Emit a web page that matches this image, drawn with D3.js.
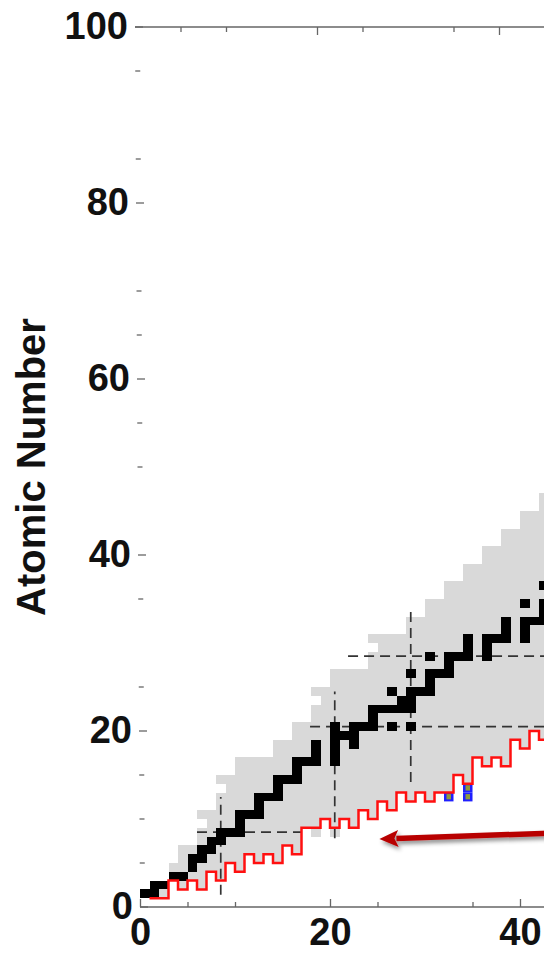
<!DOCTYPE html>
<html>
<head>
<meta charset="utf-8">
<script src="https://cdn.jsdelivr.net/npm/d3@7"></script>
<style>
  body { margin: 0; background: #fff; }
  svg { display: block; font-family: "Liberation Sans", Arial, sans-serif; }
</style>
</head>
<body>
<div id="chart"></div>
<script>
// stable nuclides as [N, Z]
const stable = [[0,1],[1,1],[1,2],[2,2],[3,3],[4,3],[5,4],[5,5],[6,5],[6,6],[7,6],[7,7],[8,7],[8,8],[9,8],
    [10,8],[10,9],[10,10],[11,10],[12,10],[12,11],[12,12],[13,12],[14,12],[14,13],[14,14],[15,14],[16,14],
    [16,15],[16,16],[17,16],[18,16],[18,17],[18,18],[20,16],[20,17],[20,18],[20,19],[20,20],[21,19],[22,18],
    [22,19],[22,20],[23,20],[24,20],[24,21],[24,22],[25,22],[26,20],[26,22],[26,24],[27,22],[27,23],[28,20],
    [28,22],[28,23],[28,24],[28,26],[29,24],[30,24],[30,25],[30,26],[30,28],[31,26],[32,26],[32,27],[32,28],
    [33,28],[34,28],[34,29],[34,30],[36,28],[36,29],[36,30],[37,30],[38,30],[38,31],[38,32],[40,30],[40,31],
    [40,32],[40,34],[41,32],[42,32],[42,33],[42,34],[42,36],[43,34],[44,32],[44,34],[44,35],[44,36],[46,34],
    [46,35],[46,36],[47,36],[48,34],[48,36],[50,36]]

// known nuclides: Z range per neutron number
const knownN    = [0,1,2,3,4,5,6,7,8,9,10,11,12,13,14,15,16,17,18,19,20,21,22,23,24,25,26,27,28,29,30,31,32,33,34,35,36,37,38,39,40,41,42,43,44,45]
const knownZmin = [1,1,1,3,2,3,2,4,3,5,4,6,5,6,5,7,6,9,8,10,8,10,9,11,10,12,11,13,12,13,12,13,13,15,14,17,16,17,16,19,18,20,19,21,20,22]
const knownZmax = [1,2,2,4,6,6,10,10,14,14,16,16,16,16,18,18,20,20,24,24,26,26,26,26,30,30,30,30,32,32,34,34,36,36,38,38,40,40,42,42,44,44,46,46,48,48]
const knownGaps = [[6,9],[8,13],[18,23],[24,29]]

// red boundary (step line)
const lineN = [1,2,3,4,5,6,7,8,9,10,11,12,13,14,15,16,17,18,19,20,21,22,23,24,25,26,27,28,29,30,31,32,33,34,35,36,37,38,39,40,41,42,43,44,45,46]
const lineZ = [1,1,3,2,3,2,4,3,5,4,6,5,6,5,7,6,9,9,10,9,10,9,11,10,12,11,13,12,13,12,13,13,15,14,17,16,17,16,19,18,20,19,21,20,22,22]

const blueCells = [[32,12],[34,12],[34,13]]

// magic numbers and the extent of their dashed lines
const magic = [8, 20, 28]
const magicVLow = [1.4, 7.8, 14.2]
const magicVHigh = [12.5, 24.5, 33.6]
const magicHLow = [6, 17.9, 21.9]
const magicHHigh = [17, 60, 60]

const arrowFrom = [50, 8.65]
const arrowTo = [25.2, 7.72]

const xMajor = [0, 20, 40]
const xMinor = [5, 10, 25, 35]
const yMajor = [0, 20, 40, 60, 80, 100]
const yMinor = [5, 10, 15, 25, 35, 50, 55, 65, 70, 85, 95]

const width = 544, height = 953

const x = d3.scaleLinear().domain([0, 40]).range([140, 520])
const xTop = d3.scaleLinear().domain([0, 40]).range([135, 499])
const y = d3.scaleLinear().domain([0, 100]).range([907, 27])
const xLeft = d3.scaleLinear().domain([0, 100]).range([140, 135])

const svg = d3.select('#chart').append('svg')
    .attr('width', width)
    .attr('height', height)

svg.append('defs').append('filter')
    .attr('id', 'shadow')
    .attr('x', '-20%').attr('y', '-100%')
    .attr('width', '140%').attr('height', '300%')
    .append('feDropShadow')
    .attr('dx', 2).attr('dy', 3)
    .attr('stdDeviation', 2)
    .attr('flood-color', '#000')
    .attr('flood-opacity', 0.45)

const cellW = n => x(n + 1) - x(n)
const cellH = z => y(z) - y(z + 1)

// grey cells
const cells = []
knownN.forEach((n, i) => {
    for (let z = knownZmin[i]; z <= knownZmax[i]; z++) {
        if (!knownGaps.some(g => g[0] === n && g[1] === z)) cells.push([n, z])
    }
})

svg.append('g')
    .selectAll('rect')
    .data(cells)
    .join('rect')
    .attr('x', d => x(d[0]))
    .attr('y', d => y(d[1] + 1))
    .attr('width', d => cellW(d[0]))
    .attr('height', d => cellH(d[1]))
    .attr('fill', '#d9d9d9')
    .attr('shape-rendering', 'crispEdges')

// magic number dashed lines
const dash = svg.append('g')
    .attr('stroke', '#333')
    .attr('stroke-width', 1.7)
    .attr('stroke-dasharray', '10,6')

dash.selectAll('.v')
    .data(magic)
    .join('line')
    .attr('class', 'v')
    .attr('x1', d => x(d + 0.5))
    .attr('x2', d => x(d + 0.5))
    .attr('y1', (d, i) => y(magicVLow[i]))
    .attr('y2', (d, i) => y(magicVHigh[i]))

dash.selectAll('.h')
    .data(magic)
    .join('line')
    .attr('class', 'h')
    .attr('y1', d => y(d + 0.5))
    .attr('y2', d => y(d + 0.5))
    .attr('x1', (d, i) => x(magicHLow[i]))
    .attr('x2', (d, i) => x(magicHHigh[i]))

// stable
svg.append('g')
    .selectAll('rect')
    .data(stable)
    .join('rect')
    .attr('x', d => x(d[0]))
    .attr('y', d => y(d[1] + 1))
    .attr('width', d => cellW(d[0]))
    .attr('height', d => cellH(d[1]))
    .attr('fill', '#000')
    .attr('shape-rendering', 'crispEdges')

// blue cells
const blue = svg.append('g')
blue.selectAll('.b')
    .data(blueCells)
    .join('rect')
    .attr('class', 'b')
    .attr('x', d => x(d[0]))
    .attr('y', d => y(d[1] + 1))
    .attr('width', d => cellW(d[0]))
    .attr('height', d => cellH(d[1]))
    .attr('fill', '#1f1fff')
blue.selectAll('.o')
    .data(blueCells)
    .join('rect')
    .attr('class', 'o')
    .attr('x', d => x(d[0]) + 2.5)
    .attr('y', d => y(d[1] + 1) + 1.5)
    .attr('width', d => cellW(d[0]) - 5)
    .attr('height', d => cellH(d[1]) * 0.6)
    .attr('fill', '#8d9a3c')

// red step line
const linePts = lineN.map((n, i) => [n, lineZ[i]])
svg.append('path')
    .datum(linePts)
    .attr('fill', 'none')
    .attr('stroke', '#ff1010')
    .attr('stroke-width', 2.5)
    .attr('d', d3.line()
        .x(d => x(d[0]))
        .y(d => y(d[1]))
        .curve(d3.curveStepAfter))

// arrow
const ax0 = x(arrowFrom[0]), ay0 = y(arrowFrom[1])
const ax1 = x(arrowTo[0]), ay1 = y(arrowTo[1])
const len = Math.hypot(ax1 - ax0, ay1 - ay0)
const ux = (ax1 - ax0) / len, uy = (ay1 - ay0) / len
const headLen = 19, headHalf = 8.5
const bx = ax1 - ux * headLen, by = ay1 - uy * headLen

const arrow = svg.append('g').attr('filter', 'url(#shadow)')
arrow.append('line')
    .attr('x1', ax0).attr('y1', ay0)
    .attr('x2', bx + ux * 2).attr('y2', by + uy * 2)
    .attr('stroke', '#b80000')
    .attr('stroke-width', 5.5)
arrow.append('path')
    .attr('d', `M${ax1},${ay1}L${bx - uy * headHalf},${by + ux * headHalf}L${bx + ux * 4},${by + uy * 4}L${bx + uy * headHalf},${by - ux * headHalf}Z`)
    .attr('fill', '#b80000')

// axes
const axisColor = '#666'

svg.append('line')
    .attr('x1', x(0)).attr('x2', width)
    .attr('y1', y(0)).attr('y2', y(0))
    .attr('stroke', axisColor).attr('stroke-width', 1.5)

svg.append('line')
    .attr('x1', xTop(0)).attr('x2', width)
    .attr('y1', y(100)).attr('y2', y(100))
    .attr('stroke', axisColor).attr('stroke-width', 1.5)

const axBottom = svg.append('g')
    .attr('transform', `translate(0,${y(0)})`)
    .call(d3.axisBottom(x).tickValues(xMajor).tickSizeInner(-8).tickSizeOuter(0).tickPadding(11))
axBottom.select('.domain').remove()

const axBottomMinor = svg.append('g')
    .attr('transform', `translate(0,${y(0)})`)
    .call(d3.axisBottom(x).tickValues(xMinor).tickSizeInner(-5).tickSizeOuter(0).tickFormat(''))
axBottomMinor.select('.domain').remove()

const axTop = svg.append('g')
    .attr('transform', `translate(0,${y(100)})`)
    .call(d3.axisTop(xTop).tickValues([20, 40]).tickSizeInner(-8).tickSizeOuter(0).tickFormat(''))
axTop.select('.domain').remove()

const axTopMinor = svg.append('g')
    .attr('transform', `translate(0,${y(100)})`)
    .call(d3.axisTop(xTop).tickValues(xMinor).tickSizeInner(-5).tickSizeOuter(0).tickFormat(''))
axTopMinor.select('.domain').remove()

const axLeft = svg.append('g')
    .call(d3.axisLeft(y).tickValues(yMajor).tickSizeInner(-8).tickSizeOuter(0).tickPadding(7))
axLeft.select('.domain').remove()
axLeft.selectAll('.tick').attr('transform', d => `translate(${xLeft(d)},${y(d)})`)

const axLeftMinor = svg.append('g')
    .call(d3.axisLeft(y).tickValues(yMinor).tickSizeInner(-5).tickSizeOuter(0).tickFormat(''))
axLeftMinor.select('.domain').remove()
axLeftMinor.selectAll('.tick').attr('transform', d => `translate(${xLeft(d)},${y(d)})`)

svg.selectAll('.tick line')
    .attr('stroke', axisColor)
    .attr('stroke-width', 1.3)

svg.selectAll('.tick text')
    .attr('fill', '#111')
    .attr('font-size', '38px')
    .attr('font-weight', 'bold')
    .attr('font-family', '"Liberation Sans", Arial, sans-serif')

svg.append('text')
    .attr('transform', `translate(45,467) rotate(-90)`)
    .attr('text-anchor', 'middle')
    .attr('fill', '#111')
    .attr('font-size', '40px')
    .attr('font-weight', 'bold')
    .text('Atomic Number')
</script>
</body>
</html>
